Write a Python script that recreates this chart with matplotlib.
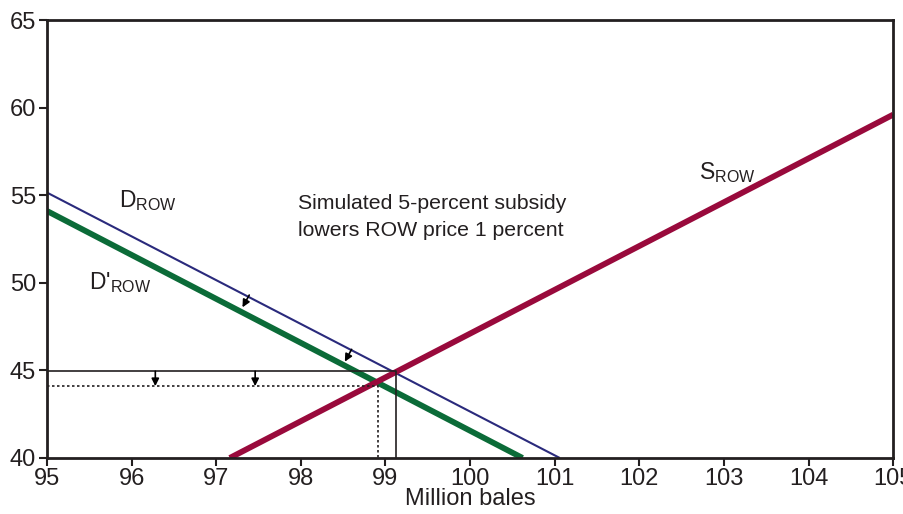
import matplotlib
matplotlib.use("Agg")
import matplotlib.pyplot as plt

plt.rcParams["font.family"] = ["Liberation Sans", "DejaVu Sans"]
plt.rcParams["mathtext.fontset"] = "custom"
plt.rcParams["mathtext.rm"] = "Liberation Sans"
plt.rcParams["mathtext.it"] = "Liberation Sans"

# curve end points (million bales, price)
demand_x = [95.0, 101.06]
demand_y = [55.15, 40.0]
demand_new_x = [95.0, 100.62]
demand_new_y = [54.1, 40.0]
supply_x = [97.16, 105.0]
supply_y = [40.0, 59.6]

# equilibrium before and after subsidy
eq_old = (99.13, 44.95)
eq_new = (98.91, 44.1)

# shift arrows: (start x, start y, end x, end y)
shift_arrows = [(97.39, 49.3, 97.31, 48.6), (98.6, 46.2, 98.52, 45.5)]
price_arrows_x = [96.28, 97.46]

xticks = list(range(95, 106))
yticks = [40, 45, 50, 55, 60, 65]

fig = plt.figure(figsize=(9.04, 5.14), dpi=100)
ax = fig.add_axes([0.052, 0.109, 0.936, 0.852])

navy = "#2a2a7c"
green = "#0b6b38"
maroon = "#990a3c"
dark = "#231f20"

ax.plot(demand_x, demand_y, color=navy, lw=1.5, solid_capstyle="butt")
ax.plot(demand_new_x, demand_new_y, color=green, lw=4.2, solid_capstyle="butt")
ax.plot(supply_x, supply_y, color=maroon, lw=4.2, solid_capstyle="butt")

ax.plot([95, eq_old[0], eq_old[0]], [eq_old[1], eq_old[1], 40], color=dark, lw=1.2)
ax.plot([95, eq_new[0], eq_new[0]], [eq_new[1], eq_new[1], 40], color=dark, lw=1.2,
        linestyle=(0, (1.5, 1.5)))

for x0, y0, x1, y1 in shift_arrows:
    ax.annotate("", xy=(x1, y1), xytext=(x0, y0),
                arrowprops=dict(arrowstyle="-|>", color="black", lw=1.2,
                                mutation_scale=11, shrinkA=0, shrinkB=0))
for x in price_arrows_x:
    ax.annotate("", xy=(x, eq_new[1]), xytext=(x, eq_old[1]),
                arrowprops=dict(arrowstyle="-|>", color="black", lw=1.2,
                                mutation_scale=11, shrinkA=0, shrinkB=0))

ax.text(95.85, 54.7, r"D$_{\mathrm{ROW}}$", fontsize=16.5, color=dark, va="center")
ax.text(95.5, 50.0, r"D'$_{\mathrm{ROW}}$", fontsize=16.5, color=dark, va="center")
ax.text(102.7, 56.3, r"S$_{\mathrm{ROW}}$", fontsize=16.5, color=dark, va="center")
ax.text(97.97, 53.75, "Simulated 5-percent subsidy\nlowers ROW price 1 percent",
        fontsize=15.3, color=dark, va="center", linespacing=1.55)

ax.set_xlim(95, 105)
ax.set_ylim(40, 65)
ax.set_xticks(xticks)
ax.set_yticks(yticks)
ax.tick_params(labelsize=17, length=6, width=1.5, color=dark, labelcolor=dark, pad=1)
ax.tick_params(axis="y", pad=2)
for s in ax.spines.values():
    s.set_linewidth(2)
    s.set_color(dark)
ax.set_xlabel("Million bales", fontsize=17, color=dark, labelpad=-1)

fig.savefig("out.png", dpi=100)
